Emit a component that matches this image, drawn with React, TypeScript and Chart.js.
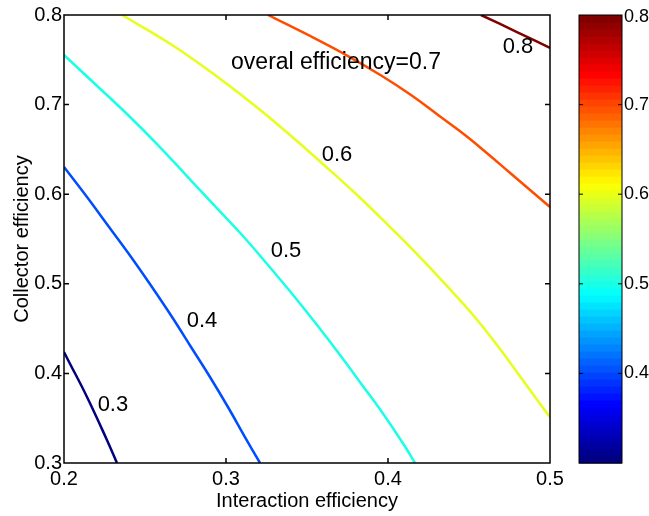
import React, { useEffect, useRef } from "react";
import { Chart, registerables } from "chart.js";

Chart.register(...registerables);

// ---- data ----
const contourLevels = [0.3, 0.4, 0.5, 0.6, 0.7, 0.8];

const line03X = [0.2, 0.2025, 0.2142, 0.2265, 0.2327];
const line03Y = [0.4239, 0.415, 0.3737, 0.3257, 0.3];

const line04X = [0.2, 0.2142, 0.2278, 0.2414, 0.2543, 0.2667, 0.2784, 0.2901, 0.3012, 0.3117, 0.321];
const line04Y = [0.6304, 0.5969, 0.5634, 0.5299, 0.4964, 0.4629, 0.4295, 0.396, 0.3625, 0.329, 0.3];

const line05X = [0.2, 0.2198, 0.2395, 0.258, 0.2753, 0.2926, 0.3099, 0.3259, 0.3414, 0.3562, 0.3704, 0.384, 0.3975, 0.4099, 0.4167];
const line05Y = [0.7554, 0.7219, 0.6884, 0.6549, 0.6214, 0.5879, 0.5545, 0.521, 0.4875, 0.454, 0.4205, 0.3871, 0.3536, 0.3201, 0.3];

const line06X = [0.2358, 0.2667, 0.2932, 0.3173, 0.3395, 0.3605, 0.3809, 0.4, 0.4185, 0.4358, 0.4525, 0.4673, 0.4809, 0.4944, 0.5];
const line06Y = [0.8, 0.7665, 0.733, 0.6996, 0.6661, 0.6326, 0.5991, 0.5656, 0.5321, 0.4987, 0.4652, 0.4317, 0.3982, 0.3647, 0.3513];

const line07X = [0.3259, 0.3519, 0.3753, 0.3963, 0.4142, 0.4309, 0.4475, 0.4617, 0.4747, 0.4877, 0.5];
const line07Y = [0.8, 0.7766, 0.7542, 0.7319, 0.7107, 0.6884, 0.6661, 0.6449, 0.6248, 0.6047, 0.5857];

const line08X = [0.4574, 0.4796, 0.5];
const line08Y = [0.8, 0.781, 0.7632];

const labelTexts = ["0.3", "0.4", "0.5", "0.6", "overal efficiency=0.7", "0.8"];
const labelX = [0.2302, 0.2852, 0.337, 0.3685, 0.3679, 0.4802];
const labelY = [0.3647, 0.4585, 0.5366, 0.6437, 0.7464, 0.7643];

const xTickValues = [0.2, 0.3, 0.4, 0.5];
const yTickValues = [0.3, 0.4, 0.5, 0.6, 0.7, 0.8];
const colorbarTickValues = [0.4, 0.5, 0.6, 0.7, 0.8];
const colorbarMin = 0.3;
const colorbarMax = 0.8;

const xTitle = "Interaction efficiency";
const yTitle = "Collector efficiency";

// ---- helpers ----
const FONT = '"Liberation Sans", Arial, Helvetica, sans-serif';

function clamp01(v: number) {
  return Math.max(0, Math.min(1, v));
}
function jet(t: number) {
  const r = clamp01(1.5 - Math.abs(4 * t - 3));
  const g = clamp01(1.5 - Math.abs(4 * t - 2));
  const b = clamp01(1.5 - Math.abs(4 * t - 1));
  return `rgb(${Math.round(r * 255)},${Math.round(g * 255)},${Math.round(b * 255)})`;
}
function levelColor(v: number) {
  return jet((v - colorbarMin) / (colorbarMax - colorbarMin));
}

const lineXs = [line03X, line04X, line05X, line06X, line07X, line08X];
const lineYs = [line03Y, line04Y, line05Y, line06Y, line07Y, line08Y];

const overlayPlugin = {
  id: "overlay",
  afterDatasetsDraw(chart: any) {
    const { ctx, chartArea: a, scales } = chart;
    const xs = scales.x;
    const ys = scales.y;
    const cs = scales.cb || scales.y;
    ctx.save();

    // contour labels
    ctx.fillStyle = "#000";
    ctx.textAlign = "center";
    ctx.textBaseline = "middle";
    labelTexts.forEach((t, i) => {
      ctx.font = `${t.length > 4 ? 23 : 22}px ${FONT}`;
      ctx.fillText(t, xs.getPixelForValue(labelX[i]), ys.getPixelForValue(labelY[i]));
    });

    // axes box
    ctx.strokeStyle = "#000";
    ctx.lineWidth = 1.5;
    ctx.strokeRect(a.left, a.top, a.right - a.left, a.bottom - a.top);

    // inward ticks
    const tl = 5;
    ctx.beginPath();
    xTickValues.forEach((v) => {
      const px = xs.getPixelForValue(v);
      if (px <= a.left + 1 || px >= a.right - 1) return;
      ctx.moveTo(px, a.bottom);
      ctx.lineTo(px, a.bottom - tl);
      ctx.moveTo(px, a.top);
      ctx.lineTo(px, a.top + tl);
    });
    yTickValues.forEach((v) => {
      const py = ys.getPixelForValue(v);
      if (py <= a.top + 1 || py >= a.bottom - 1) return;
      ctx.moveTo(a.left, py);
      ctx.lineTo(a.left + tl, py);
      ctx.moveTo(a.right, py);
      ctx.lineTo(a.right - tl, py);
    });
    ctx.stroke();

    // colorbar
    const cl = a.right + 29;
    const cw = 43;
    const n = 64;
    for (let i = 0; i < n; i++) {
      const v0 = colorbarMin + ((colorbarMax - colorbarMin) * i) / n;
      const v1 = colorbarMin + ((colorbarMax - colorbarMin) * (i + 1)) / n;
      const p0 = cs.getPixelForValue(v0);
      const p1 = cs.getPixelForValue(v1);
      ctx.fillStyle = jet(i / (n - 1));
      ctx.fillRect(cl, p1, cw, p0 - p1 + 0.6);
    }
    const cTop = cs.getPixelForValue(colorbarMax);
    const cBot = cs.getPixelForValue(colorbarMin);
    ctx.strokeStyle = "#000";
    ctx.lineWidth = 1;
    ctx.strokeRect(cl, cTop, cw, cBot - cTop);
    ctx.beginPath();
    colorbarTickValues.forEach((v) => {
      const py = cs.getPixelForValue(v);
      if (py <= cTop + 1) return;
      ctx.moveTo(cl, py);
      ctx.lineTo(cl + 4, py);
      ctx.moveTo(cl + cw, py);
      ctx.lineTo(cl + cw - 4, py);
    });
    ctx.stroke();
    ctx.fillStyle = "#000";
    ctx.font = `18px ${FONT}`;
    ctx.textAlign = "left";
    ctx.textBaseline = "middle";
    colorbarTickValues.forEach((v) => {
      const py = cs.getPixelForValue(v);
      ctx.fillText(v.toFixed(1), cl + cw + 2, py + (py <= cTop + 1 ? 2 : 0));
    });

    ctx.restore();
  },
};

export default function App() {
  const ref = useRef<HTMLCanvasElement>(null);

  useEffect(() => {
    if (!ref.current) return;
    const datasets = contourLevels.map((lv, k) => ({
      label: lv.toFixed(1),
      data: lineXs[k].map((x, i) => ({ x, y: lineYs[k][i] })),
      borderColor: levelColor(lv),
      backgroundColor: levelColor(lv),
      borderWidth: 2.5,
      pointRadius: 0,
      showLine: true,
      tension: 0.4,
      fill: false,
    }));

    const chart = new Chart(ref.current, {
      type: "scatter",
      data: { datasets },
      plugins: [overlayPlugin],
      options: {
        animation: false,
        responsive: false,
        devicePixelRatio: 1,
        layout: { padding: { left: 0, top: 15, right: 99, bottom: 0 } },
        plugins: {
          legend: { display: false },
          tooltip: { enabled: false },
        },
        scales: {
          x: {
            type: "linear",
            min: 0.2,
            max: 0.5,
            grid: { display: false, drawTicks: false },
            border: { display: false },
            afterBuildTicks: (s: any) => {
              s.ticks = xTickValues.map((v) => ({ value: v }));
            },
            afterFit: (s: any) => {
              s.height = 53;
            },
            ticks: {
              color: "#000",
              padding: 4,
              font: { family: FONT, size: 20 },
              callback: (v: any) => Number(v).toFixed(1),
            },
            title: {
              display: true,
              text: xTitle,
              color: "#000",
              font: { family: FONT, size: 20 },
              padding: { top: 0, bottom: 3 },
            },
          },
          y: {
            type: "linear",
            min: 0.3,
            max: 0.8,
            grid: { display: false, drawTicks: false },
            border: { display: false },
            afterBuildTicks: (s: any) => {
              s.ticks = yTickValues.map((v) => ({ value: v }));
            },
            afterFit: (s: any) => {
              s.width = 64;
            },
            ticks: {
              color: "#000",
              padding: 2,
              font: { family: FONT, size: 20 },
              callback: (v: any) => Number(v).toFixed(1),
            },
            title: {
              display: true,
              text: yTitle,
              color: "#000",
              font: { family: FONT, size: 20 },
              padding: { top: 10, bottom: 0 },
            },
          },
          cb: {
            type: "linear",
            position: "right",
            min: colorbarMin,
            max: colorbarMax,
            display: false,
          },
        },
      },
    } as any);
    return () => chart.destroy();
  }, []);

  return (
    <div style={{ position: "fixed", left: 0, top: 0, width: 649, height: 516, background: "#fff" }}>
      <canvas ref={ref} width={649} height={516} style={{ display: "block", width: 649, height: 516 }} />
    </div>
  );
}
